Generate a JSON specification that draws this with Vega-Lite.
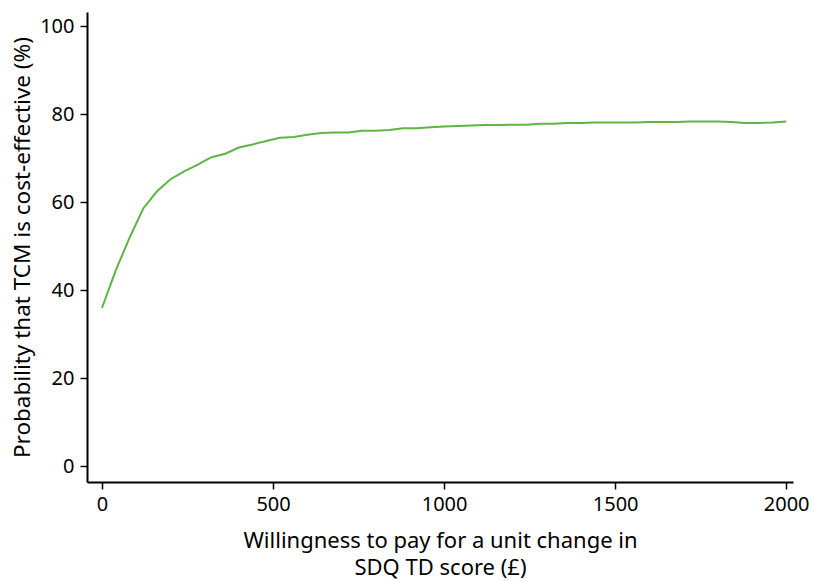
{
  "$schema": "https://vega.github.io/schema/vega-lite/v6.json",
  "width": 706,
  "height": 470,
  "autosize": {"type": "none"},
  "padding": {"left": 87, "top": 12, "right": 21, "bottom": 99},
  "background": "white",
  "config": {
    "view": {"stroke": null},
    "font": "Noto Sans",
    "axis": {
      "domainColor": "black",
      "domainWidth": 2,
      "tickColor": "black",
      "tickWidth": 1.5,
      "tickSize": 7,
      "labelFontSize": 20,
      "labelColor": "black",
      "titleFontSize": 22.5,
      "titleFontWeight": "normal",
      "titleColor": "black",
      "grid": false
    }
  },
  "data": {
    "values": [
      {"wtp": 0, "p": 36.0}, {"wtp": 40, "p": 44.5}, {"wtp": 80, "p": 51.8}, {"wtp": 120, "p": 58.5},
      {"wtp": 160, "p": 62.4}, {"wtp": 200, "p": 65.2}, {"wtp": 240, "p": 67.0}, {"wtp": 280, "p": 68.5},
      {"wtp": 320, "p": 70.2}, {"wtp": 360, "p": 71.0}, {"wtp": 400, "p": 72.4}, {"wtp": 440, "p": 73.1},
      {"wtp": 480, "p": 73.9}, {"wtp": 520, "p": 74.6}, {"wtp": 560, "p": 74.8}, {"wtp": 600, "p": 75.3},
      {"wtp": 640, "p": 75.7}, {"wtp": 680, "p": 75.8}, {"wtp": 720, "p": 75.8}, {"wtp": 760, "p": 76.2},
      {"wtp": 800, "p": 76.2}, {"wtp": 840, "p": 76.4}, {"wtp": 880, "p": 76.8}, {"wtp": 920, "p": 76.8},
      {"wtp": 960, "p": 77.0}, {"wtp": 1000, "p": 77.2}, {"wtp": 1040, "p": 77.3}, {"wtp": 1080, "p": 77.4},
      {"wtp": 1120, "p": 77.5}, {"wtp": 1160, "p": 77.5}, {"wtp": 1200, "p": 77.6}, {"wtp": 1240, "p": 77.6},
      {"wtp": 1280, "p": 77.8}, {"wtp": 1320, "p": 77.8}, {"wtp": 1360, "p": 78.0}, {"wtp": 1400, "p": 78.0},
      {"wtp": 1440, "p": 78.1}, {"wtp": 1480, "p": 78.1}, {"wtp": 1520, "p": 78.1}, {"wtp": 1560, "p": 78.1},
      {"wtp": 1600, "p": 78.2}, {"wtp": 1640, "p": 78.2}, {"wtp": 1680, "p": 78.2}, {"wtp": 1720, "p": 78.3},
      {"wtp": 1760, "p": 78.3}, {"wtp": 1800, "p": 78.3}, {"wtp": 1840, "p": 78.2}, {"wtp": 1880, "p": 78.0},
      {"wtp": 1920, "p": 78.0}, {"wtp": 1960, "p": 78.1}, {"wtp": 2000, "p": 78.3}
    ]
  },
  "mark": {"type": "line", "color": "#5db544", "strokeWidth": 2},
  "encoding": {
    "x": {
      "field": "wtp",
      "type": "quantitative",
      "scale": {"domain": [-44, 2020], "nice": false, "zero": false},
      "axis": {
        "values": [0, 500, 1000, 1500, 2000],
        "format": "d",
        "title": ["Willingness to pay for a unit change in", "SDQ TD score (£)"],
        "titleFontSize": 22,
        "titleLineHeight": 27,
        "titlePadding": 16,
        "labelPadding": 5,
        "labelFlush": false
      }
    },
    "y": {
      "field": "p",
      "type": "quantitative",
      "scale": {"domain": [-3.6, 103.2], "nice": false, "zero": false},
      "axis": {
        "values": [0, 20, 40, 60, 80, 100],
        "format": "d",
        "title": "Probability that TCM is cost-effective (%)",
        "titlePadding": 5,
        "labelPadding": 6,
        "labelFlush": false
      }
    }
  }
}
